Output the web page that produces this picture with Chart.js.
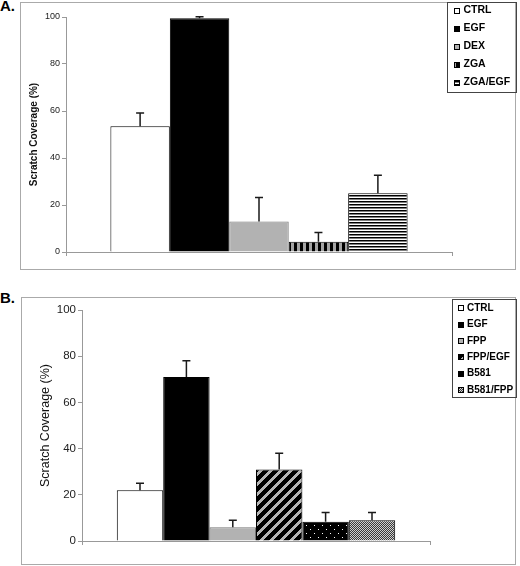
<!DOCTYPE html>
<html>
<head>
<meta charset="utf-8">
<script src="https://cdn.jsdelivr.net/npm/chart.js@4.4.1/dist/chart.umd.min.js"></script>
<style>
  body { margin: 0; width: 520px; height: 566px; background: #fff; position: relative; overflow: hidden; font-family: 'Liberation Sans', Arial, sans-serif; }
  .frame { position: absolute; box-sizing: border-box; border: 1px solid #aaa; }
  .tag { position: absolute; left: 0; font-weight: bold; font-size: 15px; color: #000; }
  canvas { position: absolute; left: 0; }
</style>
</head>
<body>
<div class="frame" style="left:20px;top:2px;width:496px;height:268px"></div>
<div class="frame" style="left:21px;top:297px;width:495px;height:268px"></div>
<div class="tag" style="top:-3px">A.</div>
<div class="tag" style="top:289px">B.</div>
<canvas id="chartA" width="520" height="283" style="top:0"></canvas>
<canvas id="chartB" width="520" height="283" style="top:283px"></canvas>
<script>
// panel A
const groupsA = ['CTRL', 'EGF', 'DEX', 'ZGA', 'ZGA/EGF'];
const valuesA = [53.5, 99.5, 13, 4.4, 25];
const errorsA = [5.7, 0.6, 10.2, 3.9, 7.7];
// panel B
const groupsB = ['CTRL', 'EGF', 'FPP', 'FPP/EGF', 'B581', 'B581/FPP'];
const valuesB = [22, 71, 6, 31, 8.3, 9];
const errorsB = [3, 7, 3, 7, 4, 3.3];

const yTicks = [0, 20, 40, 60, 80, 100];
const yTitle = 'Scratch Coverage (%)';
const FONT = "'Liberation Sans', Arial, sans-serif";

// small hatch tiles, like the old excel fills
function tile(w, h, draw) {
  const c = document.createElement('canvas');
  c.width = w; c.height = h;
  const g = c.getContext('2d');
  draw(g);
  return g.createPattern(c, 'repeat');
}
const vStripes = tile(6, 6, g => {
  g.fillStyle = '#a4a4a4'; g.fillRect(0, 0, 6, 6);
  g.fillStyle = '#000'; g.fillRect(0, 0, 3, 6);
});
const hStripes = tile(6, 3, g => {
  g.fillStyle = '#fff'; g.fillRect(0, 0, 6, 3);
  g.fillStyle = '#000'; g.fillRect(0, 0, 6, 1.5);
});
const diag = tile(10, 10, g => {
  g.fillStyle = '#b4b4b4'; g.fillRect(0, 0, 10, 10);
  g.fillStyle = '#000';
  for (let y = 0; y < 10; y++) for (let x = 0; x < 10; x++) if ((x + y) % 10 < 6) g.fillRect(x, y, 1, 1);
});
const dots = tile(8, 8, g => {
  g.fillStyle = '#000'; g.fillRect(0, 0, 8, 8);
  g.fillStyle = '#fff'; g.fillRect(2, 2, 1, 1); g.fillRect(6, 6, 1, 1);
});
const checker = tile(4, 4, g => {
  g.fillStyle = '#cfcfcf'; g.fillRect(0, 0, 4, 4);
  g.fillStyle = '#3a3a3a';
  for (let y = 0; y < 4; y++) for (let x = 0; x < 4; x++) if ((x + y) % 2 == 0) g.fillRect(x, y, 1, 1);
});

const fillsA = ['#fff', '#000', '#b2b2b2', vStripes, hStripes];
const edgesA = ['#000', '#000', '#777', '#000', '#000'];
const fillsB = ['#fff', '#000', '#b2b2b2', diag, dots, checker];
const edgesB = ['#000', '#000', '#777', '#000', '#000', '#000'];

const errorBars = {
  id: 'errorBars',
  afterDatasetsDraw(chart) {
    const ctx = chart.ctx, ys = chart.scales.y;
    ctx.save();
    ctx.strokeStyle = '#1a1a1a';
    ctx.lineWidth = 1.5;
    chart.data.datasets.forEach((ds, i) => {
      const bar = chart.getDatasetMeta(i).data[0];
      const top = ys.getPixelForValue(ds.data[0] + ds.errorBar);
      ctx.beginPath();
      ctx.moveTo(bar.x, bar.y);
      ctx.lineTo(bar.x, top);
      ctx.moveTo(bar.x - 4, top);
      ctx.lineTo(bar.x + 4, top);
      ctx.stroke();
    });
    ctx.restore();
  }
};

const boxLegend = {
  id: 'boxLegend',
  afterDraw(chart, args, o) {
    const ctx = chart.ctx;
    ctx.save();
    ctx.strokeStyle = '#444';
    ctx.lineWidth = 1;
    ctx.strokeRect(o.left + 0.5, o.top + 0.5, o.width, o.height);
    ctx.font = o.font;
    ctx.textBaseline = 'middle';
    chart.data.datasets.forEach((ds, i) => {
      const y = o.firstRow + i * o.rowGap;
      const s = o.swatch;
      ctx.fillStyle = ds.backgroundColor;
      ctx.fillRect(o.swatchX, Math.round(y - s / 2), s, s);
      ctx.strokeStyle = '#000';
      ctx.strokeRect(o.swatchX + 0.5, Math.round(y - s / 2) + 0.5, s - 1, s - 1);
      ctx.fillStyle = '#000';
      ctx.fillText(ds.label, o.textX, y);
    });
    ctx.restore();
  }
};

function buildChart(id, groups, values, errors, fills, edges, look) {
  const datasets = groups.map((name, i) => ({
    label: name,
    data: [values[i]],
    errorBar: errors[i],
    backgroundColor: fills[i],
    borderColor: edges[i],
    borderWidth: 1,
    categoryPercentage: look.barShare,
    barPercentage: 1
  }));
  return new Chart(document.getElementById(id), {
    type: 'bar',
    data: { labels: [''], datasets },
    options: {
      responsive: false,
      animation: false,
      devicePixelRatio: 1,
      layout: { padding: look.padding },
      plugins: {
        legend: { display: false },
        tooltip: { enabled: false },
        boxLegend: look.legend
      },
      scales: {
        x: {
          grid: { drawOnChartArea: false, color: '#999', tickLength: 4 },
          border: { color: '#999' },
          ticks: { display: false },
          afterFit: s => { s.height = 0; }
        },
        y: {
          min: yTicks[0],
          max: yTicks[yTicks.length - 1],
          ticks: { stepSize: yTicks[1] - yTicks[0], color: '#222', padding: 2, font: { family: FONT, size: look.tickSize } },
          grid: { drawOnChartArea: false, color: '#999', tickLength: 4 },
          border: { color: '#999' },
          title: {
            display: true,
            text: yTitle,
            color: '#111',
            font: { family: FONT, size: look.titleSize, weight: look.titleWeight },
            padding: { top: look.titlePad, bottom: 0 }
          },
          afterFit: s => { s.width = look.yWidth; }
        }
      }
    },
    plugins: [errorBars, boxLegend]
  });
}

buildChart('chartA', groupsA, valuesA, errorsA, fillsA, edgesA, {
  barShare: 0.77,
  padding: { left: 0, top: 17, right: 68, bottom: 31 },
  yWidth: 66,
  tickSize: 9,
  titleSize: 10,
  titleWeight: 'bold',
  titlePad: 28,
  legend: { left: 447, top: 2, width: 69, height: 90, firstRow: 10.5, rowGap: 18, swatch: 6, swatchX: 454, textX: 463.5, font: "bold 10.5px " + FONT }
});

buildChart('chartB', groupsB, valuesB, errorsB, fillsB, edgesB, {
  barShare: 0.8,
  padding: { left: 0, top: 27, right: 90, bottom: 25 },
  yWidth: 82,
  tickSize: 11.5,
  titleSize: 12.5,
  titleWeight: 'normal',
  titlePad: 38,
  legend: { left: 452, top: 16, width: 64, height: 98, firstRow: 25.3, rowGap: 16.35, swatch: 6, swatchX: 458, textX: 467, font: "bold 10px " + FONT }
});
</script>
</body>
</html>
